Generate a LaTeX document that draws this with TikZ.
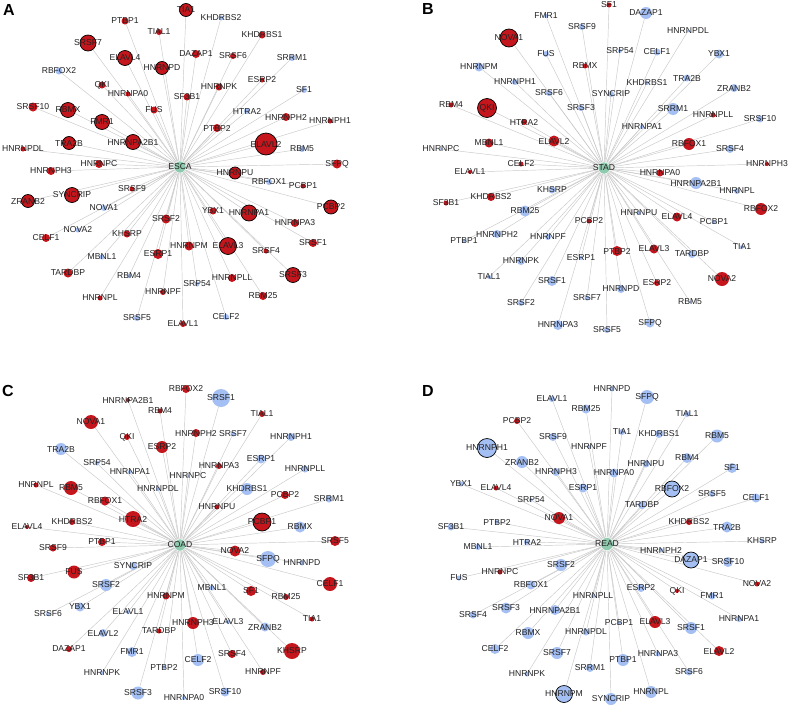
\documentclass[tikz,border=0pt]{standalone}
\usepackage{fontspec}
\setmainfont{Liberation Sans}
\definecolor{upred}{HTML}{C4161C}
\definecolor{dnblue}{HTML}{A4BFF3}
\definecolor{hubgreen}{HTML}{8FCAAE}
\definecolor{linkgray}{HTML}{C9C9C9}
\definecolor{ink}{HTML}{222222}
\pgfdeclarelayer{background}
\pgfdeclarelayer{front}
\pgfsetlayers{background,main,front}
\tikzset{
  rbp/.style={circle, inner sep=0pt, minimum size=#1},
  upreg/.style={fill=upred},
  dnreg/.style={fill=dnblue},
  upregk/.style={fill=upred, draw=black, line width=0.7pt},
  dnregk/.style={fill=dnblue, draw=black, line width=0.7pt},
  hub/.style={circle, fill=hubgreen, draw=white, line width=0.4pt, inner sep=0pt, minimum size=12pt},
  genelabel/.style={font=\fontsize{8.6}{10}\selectfont, text=ink, inner sep=0pt},
  link/.style={draw=linkgray, line width=0.45pt},
  panel/.style={font=\fontsize{16}{16}\bfseries\selectfont, inner sep=0pt},
}
% name/x/y/radius/style, pixel coordinates
\newcommand\genesA{
  TIA1/186/10/6.5/upregk, PTBP1/125/21/3.5/upreg, KHDRBS2/221/18/2.5/dnreg,
  TIAL1/159/32/3/upreg, KHDRBS1/262/35/3.5/upreg, SRSF7/88/43/8/upregk,
  ELAVL4/125/58/7.5/upregk, DAZAP1/196/54/4/upreg, SRSF6/233/56/3/upreg,
  SRRM1/292/58/3/dnreg, HNRNPD/162/68/6.5/upregk, RBFOX2/59/71/3.5/dnreg,
  QKI/102/85/3.5/upreg, HNRNPA0/128/94/2.5/upreg, ESRP2/262/80/2.5/upreg,
  HNRNPK/219/87/3.5/upreg, SF1/304/90/3/dnreg, SF3B1/187/97/3.5/upreg,
  SRSF10/33/107/4.5/upreg, RBMX/68/110/7.5/upregk, FUS/154/110/3.5/upreg,
  HTRA2/247/111/3/dnreg, HNRNPH2/286/117/4/upreg, HNRNPH1/330/121/2.5/upreg,
  FMR1/102/122/7.5/upregk, PTBP2/217/128/4/upreg, ELAVL2/266/144/11/upregk,
  RBM5/302/149/3/dnreg, TRA2B/69/143/6.5/upregk, HNRNPA2B1/133/142/7.5/upregk,
  HNRNPDL/23/149/2.5/upreg, HNRNPC/99/164/4/upreg, SFPQ/337/164/4.5/upreg,
  HNRNPH3/51/171/4/upreg, HNRNPU/235/173/6/upregk, RBFOX1/269/182/3/dnreg,
  PCBP1/303/186/2.5/upreg, SRSF9/132/189/2.5/upreg, SYNCRIP/72/195/7.5/upregk,
  ZRANB2/28/201/6.5/upregk, PCBP2/331/207/7/upregk, NOVA1/104/208/3/dnreg,
  YBX1/213/211/3.5/upreg, HNRNPA1/249/213/8/upregk, HNRNPA3/295/223/4/upreg,
  SRSF2/166/219/4.5/upreg, NOVA2/78/230/2.5/dnreg, CELF1/46/238/4/upreg,
  KHSRP/127/234/3.5/upreg, HNRNPM/189/246/4.5/upreg, ELAVL3/228/246/8.5/upregk,
  SRSF4/266/251/2.5/upreg, SRSF1/313/243/4/upreg, MBNL1/102/257/2.5/dnreg,
  ESRP1/158/254/5/upreg, TARDBP/68/273/4.5/upreg, RBM4/129/276/2/dnreg,
  SRSF3/293/275/7.5/upregk, HNRNPLL/232/278/4/upreg, SRP54/197/284/2.5/dnreg,
  HNRNPL/100/298/2.5/upreg, HNRNPF/163/292/3/upreg, RBM25/263/296/4/upreg,
  SRSF5/137/318/3/dnreg, CELF2/226/317/3/dnreg, ELAVL1/183/324/3/upreg}
\newcommand\genesB{
  SF1/609/5/2.5/upreg, FMR1/546/16/2/dnreg, DAZAP1/646/13/6/dnreg,
  SRSF9/582/27/3/dnreg, HNRNPDL/688/31/1.5/dnreg, NOVA1/509/38/9/upregk,
  FUS/546/54/3/dnreg, SRP54/620/51/2/dnreg, CELF1/657/52/3.5/dnreg,
  YBX1/719/54/4.5/dnreg, RBMX/585/66/2.5/upreg, HNRNPM/479/67/4.5/dnreg,
  TRA2B/687/78/3.5/dnreg, HNRNPH1/515/82/3/dnreg, KHDRBS1/647/83/2/dnreg,
  ZRANB2/734/88/4/dnreg, SRSF6/549/93/3/dnreg, SYNCRIP/611/94/3/dnreg,
  RBM4/451/105/2.5/upreg, QKI/487/108/9.5/upregk, SRSF3/581/108/3/dnreg,
  SRRM1/673/109/6/dnreg, HNRNPLL/713/115/2.5/upreg, SRSF10/760/119/3.5/dnreg,
  HTRA2/524/122/3/upreg, HNRNPA1/642/127/2/dnreg, MBNL1/489/143/4.5/upreg,
  ELAVL2/554/141/5.5/upreg, RBFOX1/689/144/6/upreg, HNRNPC/441/149/1.5/dnreg,
  SRSF4/730/149/4/dnreg, CELF2/521/164/2.5/upreg, ELAVL1/470/172/2/upreg,
  HNRNPH3/767/164/2/upreg, HNRNPA0/660/173/3.5/upreg, HNRNPA2B1/696/183/6/dnreg,
  KHSRP/552/190/3.5/dnreg, HNRNPL/737/191/3/dnreg, SF3B1/446/203/2.5/upreg,
  KHDRBS2/491/197/4/upreg, RBM25/525/211/5.5/dnreg, RBFOX2/761/209/6/upreg,
  PCBP2/589/221/2.5/upreg, HNRNPU/639/213/2/dnreg, ELAVL4/677/217/4.5/upreg,
  PCBP1/714/222/2/dnreg, HNRNPH2/497/234/4/dnreg, PTBP1/464/241/2/dnreg,
  HNRNPF/548/237/3/dnreg, TIA1/742/247/2/dnreg, PTBP2/617/251/5/upreg,
  ELAVL3/654/249/4.5/upreg, TARDBP/692/254/4/dnreg, HNRNPK/521/261/4/dnreg,
  ESRP1/581/258/2/dnreg, TIAL1/489/277/2/dnreg, SRSF1/552/281/5/dnreg,
  NOVA2/722/279/7/upreg, ESRP2/657/283/3/upreg, HNRNPD/621/289/4/dnreg,
  SRSF7/587/298/2.5/dnreg, RBM5/690/302/1.5/dnreg, SRSF2/521/303/3/dnreg,
  HNRNPA3/558/325/5/dnreg, SRSF5/607/330/3/dnreg, SFPQ/650/323/4.5/dnreg}
\newcommand\genesC{
  RBFOX2/186/389/4/upreg, SRSF1/221/398/9/dnreg, HNRNPA2B1/128/400/2/upreg,
  TIAL1/262/414/3/upreg, RBM4/160/411/2.5/upreg, NOVA1/91/422/7/upreg,
  QKI/127/437/3/upreg, HNRNPH2/196/433/4/upreg, SRSF7/233/434/2.5/dnreg,
  ESRP2/162/447/6/upreg, HNRNPH1/291/437/4/dnreg, TRA2B/61/449/6/dnreg,
  ESRP1/261/459/4.5/dnreg, SRP54/97/463/2.5/dnreg, HNRNPA3/219/466/3/upreg,
  HNRNPLL/305/469/3.5/dnreg, HNRNPA1/130/472/2/dnreg, HNRNPC/188/476/1.5/dnreg,
  HNRNPL/36/485/2.5/upreg, RBM5/71/488/7/upreg, HNRNPDL/158/489/2/dnreg,
  KHDRBS1/247/489/6/dnreg, PCBP2/285/495/4/upreg, RBFOX1/105/501/4.5/upreg,
  SRRM1/329/499/3.5/dnreg, HNRNPU/217/507/2.5/upreg, HTRA2/133/519/8/upreg,
  PCBP1/262/522/9/upregk, KHDRBS2/72/522/3/upreg, RBMX/300/527/5.5/dnreg,
  ELAVL4/27/527/2/upreg, PTBP1/102/542/4/upreg, SRSF5/335/541/5/upreg,
  NOVA2/235/551/5.5/upreg, SRSF9/53/548/3.5/upreg, SFPQ/268/559/8/dnreg,
  HNRNPD/302/563/2.5/dnreg, SYNCRIP/133/566/4/dnreg, FUS/74/572/6.5/upreg,
  SF3B1/31/578/4/upreg, CELF1/330/584/7/upreg, SRSF2/106/585/6/dnreg,
  HNRNPM/166/596/3.5/upreg, MBNL1/212/588/2.5/dnreg, SF1/251/591/5/upreg,
  RBM25/286/597/3/upreg, YBX1/80/607/4.5/dnreg, SRSF6/48/614/2/dnreg,
  ELAVL1/128/612/2/dnreg, HNRNPH3/193/623/6/upreg, ELAVL3/228/622/2/dnreg,
  ZRANB2/265/627/4.5/dnreg, TIA1/312/619/2.5/upreg, ELAVL2/103/633/4/dnreg,
  TARDBP/159/631/2.5/upreg, DAZAP1/69/649/3/upreg, FMR1/132/652/5/dnreg,
  KHSRP/292/651/8/upreg, CELF2/198/660/6/dnreg, SRSF4/232/654/4/upreg,
  PTBP2/164/667/2/dnreg, HNRNPK/102/673/2/dnreg, HNRNPF/263/672/3/upreg,
  SRSF3/138/693/6.5/dnreg, HNRNPA0/184/698/2/dnreg, SRSF10/225/692/4.5/dnreg}
\newcommand\genesD{
  HNRNPD/612/389/2.5/dnreg, SFPQ/647/397/7/dnreg, ELAVL1/552/399/3/dnreg,
  RBM25/586/409/4.5/dnreg, TIAL1/687/414/3/dnreg, PCBP2/517/421/3/upreg,
  TIA1/622/432/3/dnreg, KHDRBS1/659/434/4/dnreg, RBM5/717/436/6.5/dnreg,
  SRSF9/553/437/4/dnreg, HNRNPH1/487/448/9.5/dnregk, HNRNPF/589/447/2/dnreg,
  RBM4/687/458/5/dnreg, ZRANB2/522/462/6/dnreg, HNRNPU/646/464/3.5/dnreg,
  SF1/732/468/5/dnreg, HNRNPH3/556/472/4/dnreg, HNRNPA0/614/473/4.5/dnreg,
  ESRP1/583/488/4.5/dnreg, RBFOX2/672/489/8/dnregk, YBX1/461/484/2.5/dnreg,
  ELAVL4/496/488/2.5/upreg, SRSF5/712/494/3/dnreg, CELF1/756/498/4.5/dnreg,
  SRP54/531/500/2/dnreg, TARDBP/642/505/4/dnreg, NOVA1/559/518/6/upreg,
  KHDRBS2/689/522/3/upreg, TRA2B/727/527/5.5/dnreg, SF3B1/451/527/3.5/dnreg,
  PTBP2/497/522/2/dnreg, HTRA2/527/542/3/dnreg, MBNL1/478/547/3/dnreg,
  KHSRP/762/541/2.5/dnreg, HNRNPH2/661/550/2/dnreg, DAZAP1/691/560/8/dnregk,
  SRSF10/728/562/5/dnreg, SRSF2/561/565/6/dnreg, HNRNPC/500/572/2.5/upreg,
  FUS/459/578/2.5/dnreg, NOVA2/757/584/2.5/upreg, RBFOX1/531/585/4.5/dnreg,
  ESRP2/641/588/4/dnreg, QKI/677/591/2/upreg, FMR1/712/596/3.5/dnreg,
  HNRNPLL/593/596/2/dnreg, SRSF3/506/608/5.5/dnreg, SRSF4/473/615/3.5/dnreg,
  HNRNPA2B1/555/610/5/dnreg, HNRNPA1/739/619/3/dnreg, PCBP1/619/623/2/dnreg,
  ELAVL3/655/622/6/upreg, SRSF1/691/628/6/dnreg, RBMX/528/633/6/dnreg,
  HNRNPDL/586/632/3.5/dnreg, ELAVL2/719/651/5/upreg, CELF2/495/649/5/dnreg,
  SRSF7/557/653/6/dnreg, PTBP1/623/660/6/dnreg, HNRNPA3/658/654/2.5/dnreg,
  SRRM1/590/668/4/dnreg, SRSF6/689/672/3.5/dnreg, HNRNPK/527/674/2.5/dnreg,
  HNRNPM/564/694/8.5/dnregk, SYNCRIP/611/699/6/dnreg, HNRNPL/651/692/6/dnreg}
\begin{document}
\begin{tikzpicture}[x=1pt, y=-1pt]
  \useasboundingbox (0,0) rectangle (789,707);

  % panel letters
  \node[panel] (labA) at (9,10) {A};
  \node[panel] (labB) at (428,9) {B};
  \node[panel] (labC) at (8,391) {C};
  \node[panel] (labD) at (428,391) {D};

  % hubs
  \node[hub] (ESCA) at (180,167) {};
  \node[hub] (STAD) at (604,168) {};
  \node[hub] (COAD) at (180,545) {};
  \node[hub, minimum size=13pt] (READ) at (607,544) {};

  % gene nodes
  \foreach \n/\x/\y/\r/\s in \genesA
    \node[rbp=\r*2pt, \s] (A-\n) at (\x,\y) {};
  \foreach \n/\x/\y/\r/\s in \genesB
    \node[rbp=\r*2pt, \s] (B-\n) at (\x,\y) {};
  \foreach \n/\x/\y/\r/\s in \genesC
    \node[rbp=\r*2pt, \s] (C-\n) at (\x,\y) {};
  \foreach \n/\x/\y/\r/\s in \genesD
    \node[rbp=\r*2pt, \s] (D-\n) at (\x,\y) {};

  % white sheet and links, behind the nodes
  \begin{pgfonlayer}{background}
    \fill[white] (0,0) rectangle (789,707);
    \foreach \n/\x/\y/\r/\s in \genesA \draw[link] (ESCA) -- (A-\n);
    \foreach \n/\x/\y/\r/\s in \genesB \draw[link] (STAD) -- (B-\n);
    \foreach \n/\x/\y/\r/\s in \genesC \draw[link] (COAD) -- (C-\n);
    \foreach \n/\x/\y/\r/\s in \genesD \draw[link] (READ) -- (D-\n);
  \end{pgfonlayer}

  % labels on top
  \begin{pgfonlayer}{front}
    \node[genelabel] (ESCA-t) at (ESCA) {ESCA};
    \node[genelabel] (STAD-t) at (STAD) {STAD};
    \node[genelabel] (COAD-t) at (COAD) {COAD};
    \node[genelabel] (READ-t) at (READ) {READ};
    \foreach \n/\x/\y/\r/\s in \genesA \node[genelabel] (A-\n-t) at (A-\n) {\n};
    \foreach \n/\x/\y/\r/\s in \genesB \node[genelabel] (B-\n-t) at (B-\n) {\n};
    \foreach \n/\x/\y/\r/\s in \genesC \node[genelabel] (C-\n-t) at (C-\n) {\n};
    \foreach \n/\x/\y/\r/\s in \genesD \node[genelabel] (D-\n-t) at (D-\n) {\n};
  \end{pgfonlayer}
\end{tikzpicture}
\end{document}
